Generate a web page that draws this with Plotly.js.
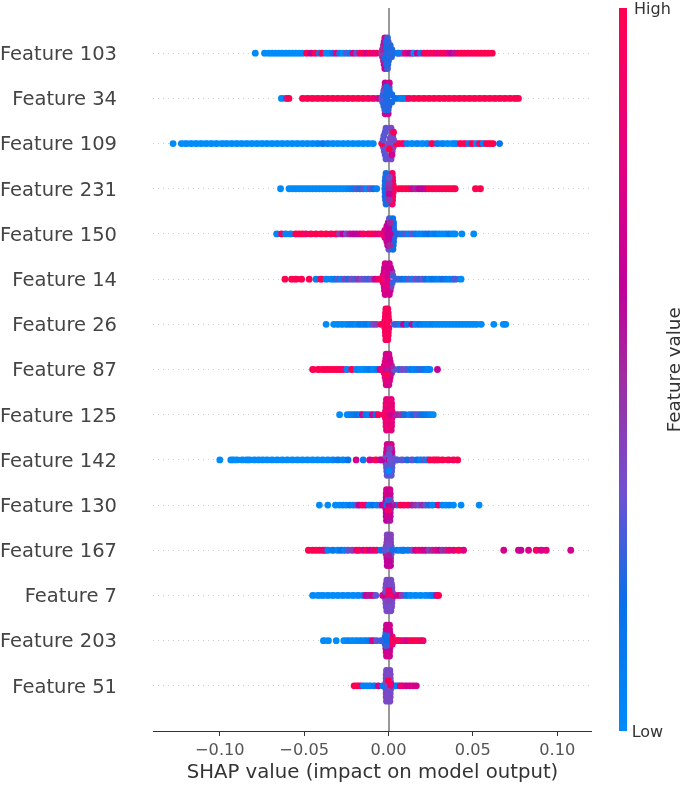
<!DOCTYPE html>
<html><head><meta charset="utf-8">
<script src="https://cdn.plot.ly/plotly-3.0.1.min.js"></script>
<style>html,body{margin:0;padding:0;background:#fff}#chart{filter:blur(.5px)}</style></head>
<body><div id="chart" style="width:685px;height:785px"></div>
<script>
const featureNames = ["Feature 51","Feature 203","Feature 7","Feature 167","Feature 130","Feature 142","Feature 125","Feature 87","Feature 26","Feature 14","Feature 150","Feature 231","Feature 109","Feature 34","Feature 103"];
const tickValues = [-0.10,-0.05,0,0.05,0.10];
const tickLabels = ["\u22120.10","\u22120.05","0.00","0.05","0.10"];

// Strip points: SHAP value and normalised feature value
const f103_x=[-.079,-.0735,-.071,-.069,-.067,-.065,-.063,-.061,-.059,-.057,-.055,-.053,-.051,-.0485,-.046,-.0435,-.041,-.0395,-.037,-.035,-.033,-.031,-.029,-.027,-.025,-.023,-.021,-.019,-.017,-.015,-.013,-.011,-.009,-.007,.006,.008,.010,.012,.014,.015,.017,.019,.021,.023,.025,.027,.029,.031,.033,.035,.037,.039,.041,.043,.045,.047,.049,.051,.053,.055,.057,.059,.0615];
const f103_c=[0,0,0,0,0,0,0,0,0,0,0,0,.02,1,.6,1,.1,1,0,0,.2,.8,.1,0,.3,.1,.7,.3,.9,1,.7,1,.8,.9,.7,.3,.8,.62,.7,0,.62,.15,.9,1,.9,1,.8,.9,1,.8,.62,.55,.9,1,1,1,.95,1,1,1,1,1,1];
const f34_x=[-.0635,-.0605,-.059,-.051,-.048,-.045,-.042,-.039,-.036,-.033,-.03,-.027,-.024,-.021,-.018,-.015,-.012,-.009,-.006,.006,.008,.01,.012,.015,.018,.021,.024,.027,.03,.033,.036,.039,.042,.045,.048,.051,.054,.057,.06,.063,.066,.069,.072,.075,.077];
const f34_c=[0,.5,1,1,1,1,1,1,1,1,1,1,1,1,1,1,.95,.9,.7,.05,.05,.1,.9,1,1,1,1,1,1,1,1,1,1,1,1,1,1,1,1,1,1,1,1,1,1];
const f109_x=[-.1277,-.1228,-.12,-.117,-.114,-.111,-.108,-.105,-.102,-.0985,-.096,-.093,-.09,-.087,-.084,-.081,-.078,-.075,-.072,-.069,-.066,-.063,-.06,-.057,-.054,-.051,-.048,-.045,-.042,-.039,-.036,-.033,-.03,-.027,-.024,-.021,-.018,-.015,-.012,-.009,.006,.0085,.011,.014,.017,.02,.023,.0257,.029,.032,.035,.038,.04,.0425,.045,.0475,.0495,.052,.054,.056,.058,.06,.062,.0658];
const f109_c=[0,0,0,0,0,0,0,0,0,0,0,0,0,0,0,0,0,0,0,0,0,0,0,0,0,0,0,0,.05,.1,.05,0,0,0,0,0,0,0,0,0,1,.9,.05,0,.05,0,.05,1,.1,.05,0,0,.05,1,1,.1,1,0,1,.05,1,1,1,.15];
const f231_x=[-.064,-.059,-.057,-.055,-.053,-.051,-.049,-.047,-.045,-.043,-.041,-.039,-.037,-.035,-.033,-.031,-.029,-.027,-.025,-.023,-.021,-.019,-.017,-.015,-.013,-.011,-.009,-.007,.006,.008,.01,.012,.014,.016,.018,.02,.022,.024,.026,.028,.03,.032,.034,.036,.038,.0395,.0515,.0545];
const f231_c=[0,0,0,0,0,0,0,0,0,0,0,0,0,0,0,0,0,0,0,.05,.1,.28,.2,.3,0,.35,.2,.05,1,1,1,1,.7,.5,.62,.6,.65,1,1,1,.95,1,1,1,1,1,1,1];
const f150_x=[-.0663,-.0634,-.061,-.058,-.055,-.053,-.051,-.049,-.046,-.043,-.04,-.037,-.034,-.031,-.029,-.027,-.025,-.023,-.021,-.019,-.017,-.015,-.012,-.01,-.008,-.006,.006,.008,.01,.012,.014,.016,.018,.02,.022,.024,.026,.028,.03,.032,.034,.036,.038,.0395,.0435,.0505];
const f150_c=[.05,1,.05,.05,1,1,1,.9,1,1,1,1,.95,1,.4,.62,.35,.55,.62,.6,.7,.95,.9,1,.9,.8,.25,.1,.3,.05,.35,.1,.05,.05,.1,.15,.05,.1,.02,0,0,.1,0,0,0,0];
const f14_x=[-.0614,-.0575,-.055,-.0515,-.047,-.043,-.04,-.037,-.034,-.032,-.03,-.028,-.026,-.024,-.022,-.02,-.018,-.016,-.014,-.012,-.01,-.008,-.006,.006,.008,.01,.012,.014,.016,.018,.02,.022,.024,.026,.028,.03,.032,.034,.036,.038,.0395,.043];
const f14_c=[1,1,1,1,1,.1,1,.05,.05,.1,.3,.05,.4,.2,.35,.28,.45,.35,.3,.25,.35,.7,.85,.05,.2,.1,.3,.05,.35,.25,.32,.2,.05,.15,.1,.05,.2,.1,.05,.1,.28,0];
const f26_x=[-.037,-.0325,-.03,-.0275,-.025,-.023,-.021,-.019,-.017,-.015,-.013,-.011,-.009,-.007,.005,.007,.0089,.011,.0139,.016,.018,.02,.022,.024,.026,.028,.03,.032,.034,.036,.038,.04,.042,.044,.046,.048,.05,.052,.055,.0624,.068,.0695];
const f26_c=[0,0,0,0,0,.05,.05,0,.1,.05,.1,0,.35,.4,.05,.05,.62,.1,.58,.02,.1,.05,0,0,.05,0,0,0,0,0,0,0,0,0,0,0,0,0,0,0,0,0];
const f87_x=[-.045,-.0415,-.039,-.037,-.035,-.033,-.031,-.029,-.027,-.0247,-.0218,-.019,-.017,-.015,-.013,-.011,-.009,-.007,-.005,.006,.008,.0105,.013,.015,.017,.019,.021,.023,.0245,.029];
const f87_c=[1,1,1,1,1,1,1,1,.9,.05,1,.05,0,0,.05,.1,0,.1,.7,.2,.35,.3,.1,.05,.1,.25,.1,.05,.05,.62];
const f125_x=[-.029,-.0245,-.0225,-.0205,-.0185,-.0165,-.0155,-.0135,-.0115,-.0095,-.0075,-.006,.005,.0075,.0095,.0125,.0145,.0165,.0185,.0205,.0225,.0245,.0265];
const f125_c=[0,0,.05,.1,.15,.05,.75,.1,.05,.7,.15,.95,.5,.45,.2,.05,.2,.3,.25,.15,.1,.05,0];
const f142_x=[-.1,-.0935,-.092,-.09,-.0865,-.084,-.0825,-.0795,-.077,-.0745,-.072,-.069,-.066,-.063,-.06,-.057,-.054,-.051,-.048,-.045,-.042,-.039,-.036,-.033,-.03,-.027,-.024,-.0192,-.015,-.0112,-.0075,-.005,.005,.008,.011,.014,.017,.019,.021,.023,.0245,.0265,.028,.0295,.032,.0355,.0385,.041];
const f142_c=[0,0,0,0,0,0,0,0,0,0,0,0,0,0,0,0,0,0,0,0,0,0,0,.05,.1,.05,.15,.72,.1,.75,1,.7,.25,.3,.2,.3,.15,.05,.3,.05,1,1,1,1,1,1,.95,1];
const f130_x=[-.041,-.036,-.0315,-.029,-.027,-.025,-.023,-.021,-.019,-.0175,-.0155,-.0135,-.0115,-.0095,-.007,-.005,.005,.007,.009,.0115,.014,.016,.018,.02,.022,.024,.026,.0295,.032,.034,.036,.0385,.043,.0537];
const f130_c=[0,0,0,0,.05,0,.1,.05,.3,.62,1,.8,.05,.15,.05,.3,.05,1,.95,1,.55,.45,.35,.5,.3,.2,.05,.85,.05,0,.05,0,0,0];
const f167_x=[-.0475,-.045,-.043,-.041,-.039,-.0376,-.036,-.033,-.03,-.028,-.026,-.024,-.0215,-.019,-.0175,-.015,-.013,-.011,-.009,-.007,.005,.007,.009,.0115,.014,.016,.018,.02,.022,.024,.026,.028,.03,.032,.034,.036,.0385,.0416,.0445,.0683,.077,.0785,.083,.0875,.0905,.0935,.108];
const f167_c=[1,1,1,1,.9,.85,.05,.1,.05,.15,.05,.3,.4,.8,1,.75,.95,.7,.85,.9,.1,.05,.2,.1,.3,.7,.85,.72,.7,.4,.5,.8,.65,.45,.5,.85,.8,1,.75,.72,.7,.65,.72,.95,.75,.8,.72];
const f7_x=[-.045,-.0415,-.039,-.036,-.033,-.03,-.027,-.024,-.021,-.018,-.015,-.0135,-.0115,-.0095,-.0075,.006,.008,.0105,.013,.016,.019,.022,.0245,.0265,.0285,.0297];
const f7_c=[0,0,0,0,0,0,0,0,0,.02,.05,.7,.55,.72,.3,.7,.4,.1,.02,0,0,0,.05,.1,.7,1];
const f203_x=[-.0386,-.0356,-.031,-.0265,-.024,-.0215,-.019,-.0165,-.014,-.0115,-.0095,-.007,.005,.007,.009,.011,.013,.015,.017,.019,.0205];
const f203_c=[0,0,0,0,.05,0,.02,.05,.05,.1,.75,.3,1,.9,.85,.7,.95,1,1,.95,.9];
const f51_x=[-.0204,-.0185,-.0168,-.015,-.013,-.011,-.0085,-.006,.004,.0055,.007,.0085,.0105,.0125,.0145,.0165];
const f51_c=[1,1,.95,.05,.05,.05,.1,.7,.1,.05,.9,.85,.7,.72,.75,.7];

// Central swarm: vertical offset (row units) shared by position in each list below
const coreOffsets=[-.34,-.34,-.25,-.25,-.17,-.17,-.08,-.08,0,0,.08,.08,.17,.17,.25,.25,.34,.34,0,0,.12,-.12,.25,-.25];
const f103_coreX=[-.0022,-.0006,-.0026,-.0004,-.003,0,-.0036,.0018,-.004,.003,-.0036,.002,-.003,.001,-.0026,-.0002,-.0022,-.0006,-.001,.0055,-.001,-.002,-.0015,-.0012];
const f103_coreC=[.65,.25,.6,.22,.55,.22,.5,.22,.4,.22,.5,.22,.5,.22,.6,.25,.7,.25,.22,.08,.2,.2,.22,.22];
const f34_coreX=[-.002,-.0002,-.0022,-.0002,-.0028,.0002,-.0035,.002,-.004,.004,-.0032,.002,-.0028,.0005,-.0022,.0004,-.002,.0005,-.001,.008,-.001,-.0015,-.0012,-.001];
const f34_coreC=[.7,.7,.25,.22,.22,.22,.22,.2,.3,.15,.22,.2,.3,.2,.45,.22,.65,.7,.2,.05,.2,.22,.2,.22];
const f109_coreX=[-.0015,.0015,-.002,.002,-.0025,.0022,-.003,.0028,-.004,.0045,-.0032,.003,-.0028,.0025,-.002,.002,-.0015,.0015,0,.0005,.001,.0005,.003,.002];
const f109_coreC=[.3,.36,.3,.36,.3,.36,.3,.36,1,1,.3,.36,.3,.36,.3,.36,.3,.36,.36,.34,.36,1,.95,.7];
const f231_coreX=[-.0015,.0022,-.0018,.0024,-.002,.0025,-.002,.0028,-.0022,.003,-.002,.0028,-.002,.0025,-.0018,.0024,-.0015,.0022,.0004,.0005,.0004,.0004,.0004,.0004];
const f231_coreC=[.2,.92,.2,.95,.2,.95,.2,.95,.18,1,.2,.95,.2,.9,.2,.95,.2,.92,.6,.5,.45,.6,.32,.45];
const f150_coreX=[.0002,.0026,-.0005,.0028,-.001,.003,-.0022,.0032,-.004,.0035,-.0022,.0032,-.001,.003,-.0002,.003,.0005,.0025,-.0005,.001,.0002,.0002,.001,.0008];
const f150_coreC=[.3,.15,.62,.18,.65,.18,.7,.22,.9,.2,.75,.22,.65,.2,.6,.18,.3,.15,.65,.6,.62,.62,.5,.5];
const f14_coreX=[-.002,.0005,-.0024,.001,-.0026,.0015,-.0032,.0022,-.0045,.0045,-.0032,.0025,-.0026,.002,-.0024,.0012,-.002,.0005,-.001,-.0008,-.001,-.001,-.0008,-.0008];
const f14_coreC=[.72,.72,.72,.62,.72,.4,.75,.25,1,.25,.8,.25,.72,.4,.72,.62,.72,.7,.85,.75,.72,.8,.7,.75];
const f26_coreX=[-.0016,-.0004,-.0018,-.0002,-.0019,-.0001,-.0022,.0002,-.0045,.0035,-.0022,.0002,-.0019,-.0001,-.0018,-.0002,-.0016,-.0004,-.001,-.001,-.001,-.001,-.001,-.001];
const f26_coreC=[.95,.95,.95,.95,.95,.95,.95,.9,.95,.25,.95,.9,.95,.95,.95,.95,.95,.95,.9,.95,.95,.95,.95,.95];
const f87_coreX=[-.0014,.0002,-.0016,.0006,-.002,.001,-.0026,.0018,-.004,.0035,-.0026,.0018,-.002,.001,-.0016,.0006,-.0014,.0002,-.001,-.0005,-.0008,-.0008,-.0005,-.0008];
const f87_coreC=[.75,.72,.78,.72,.8,.7,.8,.55,.85,.3,.8,.5,.8,.68,.78,.7,.72,.72,.6,.55,.75,.95,.72,.8];
const f125_coreX=[-.0012,.0016,-.0015,.0018,-.0015,.0018,-.0018,.002,-.0028,.0035,-.0018,.002,-.0015,.0018,-.0015,.0018,-.0012,.0016,0,.001,.0002,.0002,.0002,.0002];
const f125_coreC=[.82,.82,.85,.82,.85,.82,.85,.8,.95,.5,.85,.8,.85,.82,.85,.82,.82,.82,.9,.7,.85,.85,.85,.85];
const f142_coreX=[-.0008,.0016,-.001,.0018,-.0012,.002,-.0015,.0022,-.004,.0045,-.0015,.0022,-.0012,.002,-.001,.0018,-.0008,.0016,.0001,.001,.0002,.0002,.0006,.0002];
const f142_coreC=[.3,.3,.28,.3,.3,.28,.32,.3,.62,.3,.32,.3,.7,.7,.72,.7,.72,.72,.62,.33,.32,.3,.4,.02];
const f130_coreX=[-.0012,.0008,-.0014,.001,-.0014,.001,-.0016,.0012,-.0036,.0028,-.0016,.0012,-.0014,.001,-.0014,.001,-.0012,.0008,-.0012,.0002,-.0003,-.0003,-.0003,-.0003];
const f130_coreC=[.62,.55,.62,.6,.62,.6,.65,.5,.65,.55,.7,.4,.62,.42,.72,.62,.72,.7,.15,.6,.25,.9,.7,.68];
const f167_coreX=[-.0008,.0012,-.0008,.0012,-.001,.0012,-.0015,.0016,-.0045,.0085,-.0015,.0016,-.001,.0012,-.0008,.0012,-.0008,.0012,.002,-.002,.0002,.0002,.0002,.0002];
const f167_coreC=[.62,.62,.6,.55,.62,.55,.55,.35,.15,.1,.3,.28,.42,.45,.42,.4,.38,.4,.2,.3,.35,.55,.4,.62];
const f7_coreX=[-.001,.0014,-.0014,.0018,-.0016,.002,-.0018,.0022,-.0035,.004,-.0018,.0022,-.0016,.002,-.0014,.0018,-.001,.0014,0,.0014,.0003,.0002,.0002,.0002];
const f7_coreC=[.36,.36,.35,.36,.35,.35,.36,.36,.7,.7,.38,.4,.35,.35,.36,.35,.36,.36,.95,.85,.9,.4,.36,.35];
const f203_coreX=[-.0012,.0006,-.0014,.0006,-.0016,.0008,-.002,.0022,-.0045,.005,-.002,.0022,-.0016,.0008,-.0014,.0006,-.0012,.0006,-.001,.0025,-.001,-.0012,-.0004,-.0004];
const f203_coreC=[.7,.68,.72,.66,.72,.62,.22,.9,.25,.95,.2,.95,.25,.65,.7,.66,.7,.68,.18,.95,.2,.25,.7,.7];
const f51_coreX=[-.0012,.0008,-.0014,.001,-.0014,.001,-.0015,.0012,-.0035,.003,-.0015,.0012,-.0014,.001,-.0014,.001,-.0012,.0008,-.0002,.0012,-.0002,-.0002,-.0002,-.0002];
const f51_coreC=[.36,.36,.36,.35,.36,.36,.36,.33,.1,.08,.36,.8,.36,.35,.36,.36,.37,.36,.33,.85,1,.36,.36,.36];

const rows=[
 [f51_x,f51_c,f51_coreX,f51_coreC],[f203_x,f203_c,f203_coreX,f203_coreC],
 [f7_x,f7_c,f7_coreX,f7_coreC],[f167_x,f167_c,f167_coreX,f167_coreC],
 [f130_x,f130_c,f130_coreX,f130_coreC],[f142_x,f142_c,f142_coreX,f142_coreC],
 [f125_x,f125_c,f125_coreX,f125_coreC],[f87_x,f87_c,f87_coreX,f87_coreC],
 [f26_x,f26_c,f26_coreX,f26_coreC],[f14_x,f14_c,f14_coreX,f14_coreC],
 [f150_x,f150_c,f150_coreX,f150_coreC],[f231_x,f231_c,f231_coreX,f231_coreC],
 [f109_x,f109_c,f109_coreX,f109_coreC],[f34_x,f34_c,f34_coreX,f34_coreC],
 [f103_x,f103_c,f103_coreX,f103_coreC]];

const colorStops=[[0,'#008bfb'],[.18,'#0a6fe8'],[.33,'#7050d0'],[.49,'#a02ca0'],[.615,'#c0009a'],[.8,'#e50080'],[1,'#ff0051']];
function rgbAt(v){
  for(let k=1;k<colorStops.length;k++){
    if(v<=colorStops[k][0]){
      const [a,ca]=colorStops[k-1],[b,cb]=colorStops[k],t=(v-a)/(b-a);
      const p=(s,n)=>parseInt(s.substr(n,2),16);
      return 'rgb('+[1,3,5].map(n=>Math.round(p(ca,n)+(p(cb,n)-p(ca,n))*t)).join(',')+')';
    }
  }
  return colorStops[colorStops.length-1][1];
}

// Touching neighbours on a strip are joined so that the dense runs read as a solid band.
const buckets=10, joinX=Array.from({length:buckets+1},()=>[]), joinY=Array.from({length:buckets+1},()=>[]);
rows.forEach((r,i)=>{
  for(let k=1;k<r[0].length;k++){
    if(r[0][k]-r[0][k-1]<=.0037){
      const b=Math.round((r[1][k]+r[1][k-1])/2*buckets);
      joinX[b].push(r[0][k-1],r[0][k],null); joinY[b].push(i,i,null);
    }
  }
});
const joinTraces=joinX.map((xs,b)=>({type:'scatter',mode:'lines',hoverinfo:'skip',showlegend:false,
  x:xs,y:joinY[b],line:{color:rgbAt(b/buckets),width:6}}));

const traces=joinTraces.concat(rows.map((r,i)=>({
  type:'scatter',mode:'markers',hoverinfo:'skip',showlegend:false,
  x:r[0].concat(r[2]),
  y:r[0].map(()=>i).concat(coreOffsets.map(d=>i+d)),
  marker:{size:6.8,color:r[1].concat(r[3]),coloraxis:'coloraxis',line:{width:0}}
})));

const font='"DejaVu Sans",sans-serif';
const layout={
  width:685,height:785,paper_bgcolor:'#fff',plot_bgcolor:'#fff',showlegend:false,
  margin:{l:153,r:93,t:8,b:54,pad:0},
  xaxis:{range:[-.1396,.1206],tickvals:tickValues,ticktext:tickLabels,showgrid:false,
    zeroline:true,zerolinecolor:'#999',zerolinewidth:2,showline:true,linecolor:'#333',linewidth:1,
    ticks:'outside',ticklen:4,tickwidth:1,tickcolor:'#333',
    tickfont:{family:font,size:16.2,color:'#555'},
    title:{text:'SHAP value (impact on model output)',font:{family:font,size:19.7,color:'#333'},standoff:5}},
  yaxis:{range:[-1,15],tickvals:featureNames.map((_,i)=>i),ticktext:featureNames,zeroline:false,
    showgrid:true,gridcolor:'#ccc',gridwidth:1,griddash:'1px,4px',showline:false,ticks:'',ticklabelstandoff:35,
    tickfont:{family:font,size:19.5,color:'#444'}},
  coloraxis:{cmin:0,cmax:1,colorscale:colorStops,
    colorbar:{x:1.0615,xanchor:'left',xref:'paper',y:0,yanchor:'bottom',len:1,lenmode:'fraction',ypad:0,xpad:0,
      thickness:8,outlinewidth:0,tickvals:[0],ticktext:['Low'],ticks:'outside',ticklen:2,tickcolor:'rgba(0,0,0,0)',
      tickfont:{family:font,size:16,color:'#333'}}},
  annotations:[
    {text:'Feature value',xref:'paper',yref:'paper',x:1.186,y:.5,xanchor:'center',yanchor:'middle',
     showarrow:false,textangle:-90,font:{family:font,size:18.3,color:'#333'}},
    {text:'High',xref:'paper',yref:'paper',x:1.0915,y:1,xanchor:'left',yanchor:'middle',
     showarrow:false,font:{family:font,size:16,color:'#333'}}
  ]
};
Plotly.newPlot('chart',traces,layout,{displayModeBar:false,responsive:false});
</script></body></html>
